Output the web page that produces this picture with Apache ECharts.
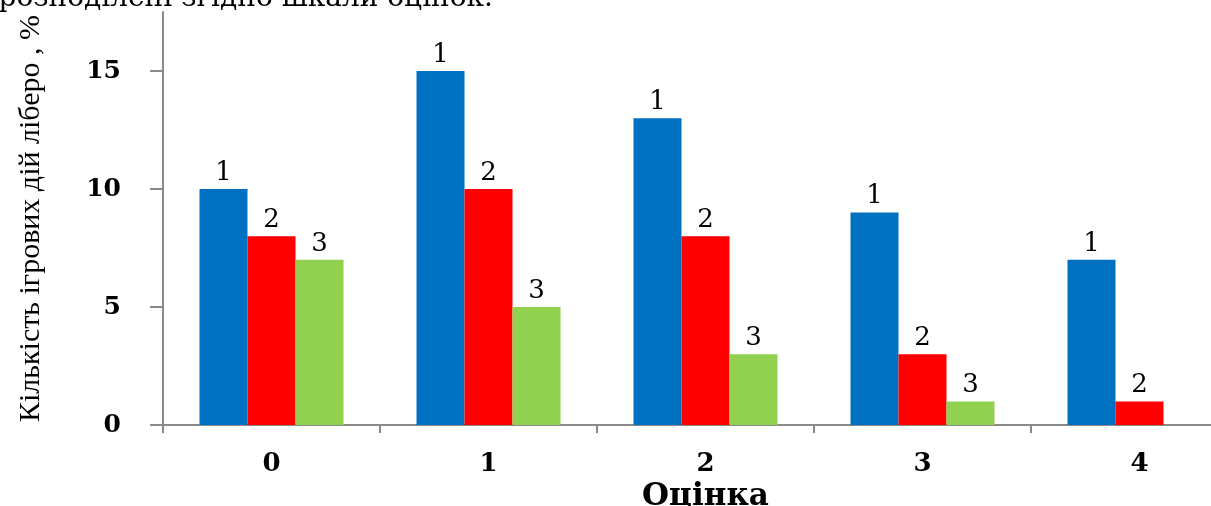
<!DOCTYPE html>
<html>
<head>
<meta charset="utf-8">
<script src="https://cdn.jsdelivr.net/npm/echarts@6/dist/echarts.min.js"></script>
<style>
html,body{margin:0;padding:0;background:#fff;overflow:hidden;width:1211px;height:506px;}
#chart{width:1270px;height:506px;}
</style>
</head>
<body>
<div id="chart"></div>
<script>
const categories = ['0', '1', '2', '3', '4'];
const seriesNames = ['1', '2', '3'];
const series1 = [10, 15, 13, 9, 7];
const series2 = [8, 10, 8, 3, 1];
const series3 = [7, 5, 3, 1, null];
const yTicks = [0, 5, 10, 15];
const xAxisTitle = 'Оцінка';
const yAxisTitle = 'Кількість ігрових дій ліберо , %';
const topText = 'розподілені згідно шкали оцінок.';

const colors = ['#0070C0', '#FF0000', '#92D050'];
const serif = '"Liberation Serif", "DejaVu Serif", serif';
const wideSerif = '"DejaVu Serif", serif';
const axisGray = '#8a8a8a';

const chart = echarts.init(document.getElementById('chart'));
const values = [series1, series2, series3];
const option = {
  animation: false,
  graphic: [{
    type: 'text',
    x: 493,
    y: 13,
    style: { text: topText, font: '28px ' + wideSerif, fill: '#000', align: 'right', verticalAlign: 'bottom' }
  }],
  grid: { left: 163, top: 12, width: 1085, height: 413, outerBoundsMode: 'none', containLabel: false },
  xAxis: {
    type: 'category',
    data: categories,
    name: xAxisTitle,
    nameLocation: 'middle',
    nameGap: 56,
    nameTextStyle: { fontFamily: wideSerif, fontSize: 31, fontWeight: 'bold', color: '#000' },
    axisLine: { lineStyle: { color: axisGray, width: 2 } },
    axisTick: { show: true, length: 8, lineStyle: { color: axisGray, width: 2 } },
    axisLabel: { margin: 26, fontFamily: wideSerif, fontSize: 26, fontWeight: 'bold', color: '#000' }
  },
  yAxis: {
    type: 'value',
    min: 0,
    max: 17.5,
    interval: 5,
    name: yAxisTitle,
    nameLocation: 'middle',
    nameRotate: 90,
    nameGap: 117,
    nameTextStyle: { fontFamily: serif, fontSize: 30, color: '#000' },
    splitLine: { show: false },
    axisLine: { show: true, lineStyle: { color: axisGray, width: 2 } },
    axisTick: { show: true, length: 13, customValues: yTicks, lineStyle: { color: axisGray, width: 2 } },
    axisLabel: { customValues: yTicks, margin: 42, fontFamily: wideSerif, fontSize: 25, fontWeight: 'bold', color: '#000' }
  },
  series: seriesNames.map((n, i) => ({
    name: n,
    type: 'bar',
    data: values[i],
    barWidth: 48,
    barGap: '0%',
    itemStyle: { color: colors[i] },
    label: {
      show: true,
      position: 'top',
      distance: 3,
      formatter: n,
      fontFamily: wideSerif,
      fontSize: 26,
      color: '#000'
    }
  }))
};
chart.setOption(option);
</script>
</body>
</html>
